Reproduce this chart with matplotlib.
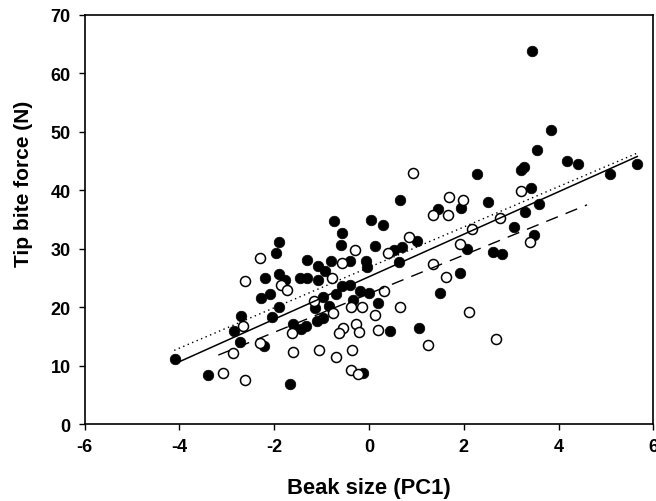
import numpy as np
import matplotlib
matplotlib.use("Agg")
from matplotlib import pyplot as plt

plt.rcParams['font.family'] = ['Liberation Sans', 'DejaVu Sans']
plt.rcParams['font.weight'] = 'bold'
plt.rcParams['axes.unicode_minus'] = False

# closed symbols
filled_x = [-4.10, -3.40, -2.84, -2.73, -2.71, -2.22, -2.27, -2.08, -2.04, -1.89,
            -2.19, -1.90, -1.77, -1.89, -1.96, -1.67, -1.60, -1.43, -1.32, -1.09,
            -0.97, -1.46, -1.31, -1.07, -1.31, -1.07, -0.93, -0.81, -0.74, -0.58,
            -0.59, -0.40, -0.07, -0.05, 0.04, 0.12, 0.29, -1.14, -0.97, -0.84,
            -0.69, -0.58, -0.40, -0.33, -0.20, 0.01, 0.20, -0.12, 0.52, 0.69,
            1.01, 0.64, 0.66, 1.45, 1.95, 2.28, 2.51, 2.07, 2.62, 2.80,
            1.93, 1.50, 1.05, 0.44, 3.06, 3.29, 3.59, 3.48, 3.41, 3.20,
            3.28, 3.54, 3.85, 3.43, 4.17, 4.40, 5.09, 5.66]
filled_y = [11.2, 8.4, 15.9, 14.0, 18.5, 13.4, 21.5, 22.3, 18.3, 20.0,
            25.0, 25.6, 24.7, 31.1, 29.3, 6.8, 17.1, 16.3, 16.7, 17.6,
            18.2, 25.0, 24.9, 24.7, 28.0, 27.0, 26.2, 27.9, 34.7, 32.6,
            30.6, 27.9, 27.9, 26.8, 34.9, 30.4, 34.0, 19.9, 21.8, 20.2,
            22.2, 23.6, 23.8, 21.3, 22.7, 22.4, 20.7, 8.8, 29.8, 30.3,
            31.3, 27.8, 38.3, 36.8, 37.0, 42.8, 37.9, 29.9, 29.5, 29.1,
            25.9, 22.5, 16.5, 15.9, 33.7, 36.2, 37.6, 32.4, 40.4, 43.4,
            43.9, 46.8, 50.3, 63.8, 44.9, 44.5, 42.7, 44.5]

# open symbols
open_x = [-3.09, -2.61, -2.87, -2.66, -2.61, -2.30, -2.31, -1.85, -1.74, -1.62,
          -1.60, -1.06, -1.16, -0.79, -0.57, -0.30, -0.76, -0.69, -0.35, -0.38,
          -0.23, -0.39, -0.15, -0.54, -0.63, -0.27, -0.22, 0.12, 0.19, 0.32,
          0.66, 0.40, 0.85, 0.93, 1.36, 1.66, 1.69, 1.98, 2.17, 2.77,
          1.91, 1.34, 1.62, 2.10, 1.24, 2.68, 3.20, 3.39]
open_y = [8.8, 7.6, 12.2, 16.7, 24.4, 28.4, 13.8, 23.8, 22.9, 15.6,
          12.3, 12.6, 21.0, 25.0, 27.5, 29.7, 19.0, 11.5, 12.6, 9.3,
          8.5, 20.0, 20.1, 16.4, 15.5, 17.1, 15.7, 18.6, 16.1, 22.7,
          20.0, 29.2, 32.0, 43.0, 35.8, 35.7, 38.8, 38.3, 33.4, 35.2,
          30.8, 27.3, 25.2, 19.2, 13.5, 14.5, 39.8, 31.1]

# regression lines: (x start, x end, slope, intercept)
fit_all = (-4.07, 5.66, 3.63, 25.2)
fit_filled = (-4.11, 5.66, 3.45, 26.8)
fit_open = (-3.18, 4.60, 3.30, 22.3)

fig = plt.figure(figsize=(6.56, 5.02), dpi=100)
ax = fig.add_axes([0.129, 0.153, 0.867, 0.816])

ax.scatter(filled_x, filled_y, s=58, c='black', edgecolors='black', linewidths=0.5, zorder=2)
ax.scatter(open_x, open_y, s=52, c='white', edgecolors='black', linewidths=1.1, zorder=2)

def draw_fit(fit, **kw):
    x0, x1, b, a = fit
    xs = np.array([x0, x1])
    ax.plot(xs, a + b * xs, color='black', zorder=3, **kw)

draw_fit(fit_all, lw=1.1, ls='-')
draw_fit(fit_filled, lw=1.0, ls=(0, (1, 2.5)))
draw_fit(fit_open, lw=1.0, ls=(0, (9, 6)))

ax.set_xlim(-6, 6)
ax.set_ylim(0, 70)
ax.set_xticks(np.arange(-6, 7, 2))
ax.set_yticks(np.arange(0, 71, 10))
ax.tick_params(direction='out', length=4, width=1, labelsize=13, pad=6, top=False, right=False)
for sp in ax.spines.values():
    sp.set_linewidth(1.2)

ax.set_xlabel('Beak size (PC1)', fontsize=15.8, fontweight='bold')
ax.set_ylabel('Tip bite force (N)', fontsize=15, fontweight='bold')
ax.xaxis.set_label_coords(0.5, -0.128)
ax.yaxis.set_label_coords(-0.091, 0.588)

fig.savefig('out.png', dpi=100)
